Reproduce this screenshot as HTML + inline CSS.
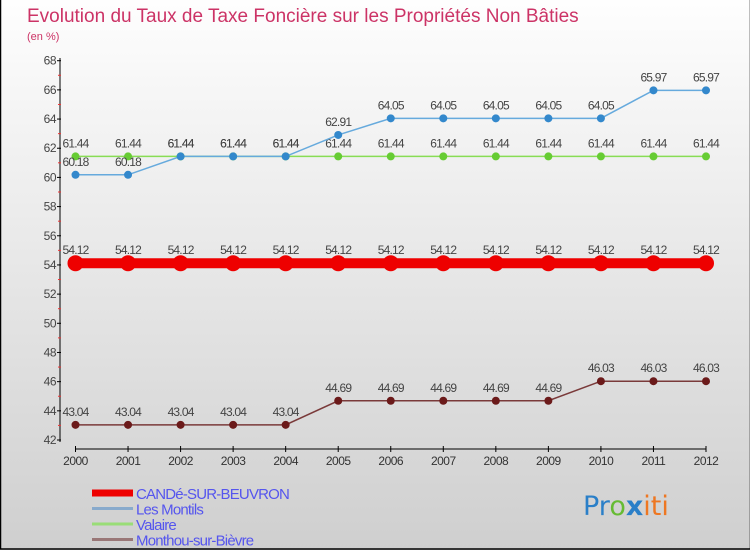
<!DOCTYPE html>
<html><head><meta charset="utf-8"><style>
body{margin:0;width:750px;height:550px;overflow:hidden;font-family:"Liberation Sans",sans-serif}
</style></head><body>
<svg id="c" width="750" height="550" xmlns="http://www.w3.org/2000/svg">
<defs><linearGradient id="bg" x1="0" y1="0" x2="0" y2="1"><stop offset="0" stop-color="#fefefe"/><stop offset="1" stop-color="#cfcfcf"/></linearGradient></defs>
<rect width="750" height="550" fill="url(#bg)"/>
<rect x="0.5" y="-1" width="750" height="550" fill="none" stroke="#000" stroke-width="1.5"/>
<text x="27" y="22" font-size="19" fill="#cc3366">Evolution du Taux de Taxe Foncière sur les Propriétés Non Bâties</text>
<text x="27" y="40" font-size="11" fill="#cc3366">(en %)</text>
<g id="axes"></g><g id="series"></g><g id="legend"></g>
<text x="583" y="515" font-size="27" font-family="DejaVu Sans, sans-serif"><tspan fill="#2a7fc8">Pr</tspan><tspan fill="#66bb33">o</tspan><tspan fill="#2a7fc8" font-weight="bold">x</tspan><tspan fill="#ee7722">iti</tspan></text>
</svg>
<script>
const years=[2000,2001,2002,2003,2004,2005,2006,2007,2008,2009,2010,2011,2012];
const yTicks=[42,44,46,48,50,52,54,56,58,60,62,64,66,68];
const cande=[54.12,54.12,54.12,54.12,54.12,54.12,54.12,54.12,54.12,54.12,54.12,54.12,54.12];
const montils=[60.18,60.18,61.44,61.44,61.44,62.91,64.05,64.05,64.05,64.05,64.05,65.97,65.97];
const valaire=[61.44,61.44,61.44,61.44,61.44,61.44,61.44,61.44,61.44,61.44,61.44,61.44,61.44];
const monthou=[43.04,43.04,43.04,43.04,43.04,44.69,44.69,44.69,44.69,44.69,46.03,46.03,46.03];
const names=["CANDé-SUR-BEUVRON","Les Montils","Valaire","Monthou-sur-Bièvre"];
const NS="http://www.w3.org/2000/svg";
const xs=i=>75.5+i*(706-75.5)/(years.length-1);
const ys=v=>440-(v-42)*(440-60.7)/26;
function mk(t,a,p){const e=document.createElementNS(NS,t);for(const k in a)e.setAttribute(k,a[k]);p.appendChild(e);return e;}
const ax=document.getElementById('axes');
let l=mk('line',{x1:60,y1:58,x2:60,y2:442,stroke:'#000'},ax);


yTicks.forEach((v,i)=>{
 const y=ys(v);
 mk('line',{x1:57,y1:y,x2:61,y2:y,stroke:'#000'},ax);
 if(i<yTicks.length-1) mk('line',{x1:58,y1:ys(v+1),x2:61,y2:ys(v+1),stroke:'#e33'},ax);
 const t=mk('text',{x:56,y:y+4,'font-size':12,fill:'#444','text-anchor':'end','letter-spacing':'-0.5'},ax);t.textContent=v;
 
 
});
l=mk('line',{x1:75.5,y1:449,x2:706,y2:449,stroke:'#000'},ax);


years.forEach((yr,i)=>{
 const x=xs(i);
 mk('line',{x1:x,y1:446,x2:x,y2:452,stroke:'#000'},ax);
 const t=mk('text',{x:x,y:465,'font-size':12,fill:'#333','text-anchor':'middle','letter-spacing':'-0.5'},ax);t.textContent=yr;
 
 
});
const sg=document.getElementById('series');
function series(data,color,dot,w,r,name){
 const g=mk('g',{},sg);
 
 
 mk('polyline',{points:data.map((v,i)=>xs(i)+','+ys(v)).join(' '),fill:'none',stroke:color,'stroke-width':w},g);
 data.forEach((v,i)=>{
  const c=mk('circle',{cx:xs(i),cy:ys(v),r:r,fill:dot},g);
  
  
  const t=mk('text',{x:xs(i),y:ys(v)-9,'font-size':12,fill:'#444','text-anchor':'middle','letter-spacing':'-0.8'},g);
  t.textContent=v.toFixed(2);
  
  
 });
}
series(monthou,'#7a3a3a','#6b1a1a',1.5,4,'series-monthou');
series(cande,'#ee0000','#ee0000',10,8,'series-cande');
series(valaire,'#88dd55','#66cc33',1.5,4,'series-valaire');
series(montils,'#66aadd','#3388cc',1.5,4,'series-montils');
const lg=document.getElementById('legend');
const lc=['#ee0000','#88aacc','#99dd77','#997777'],lw=[7,3,3,3];
names.forEach((n,i)=>{
 const y=493+i*15.5;
 const g=mk('g',{},lg);
 
 
 mk('line',{x1:92,y1:y,x2:133,y2:y,stroke:lc[i],'stroke-width':lw[i]},g);
 const t=mk('text',{x:136,y:y+6,'font-size':15,fill:'#5555ee','letter-spacing':'-0.8'},g);t.textContent=n;
});
</script>
</body></html>
